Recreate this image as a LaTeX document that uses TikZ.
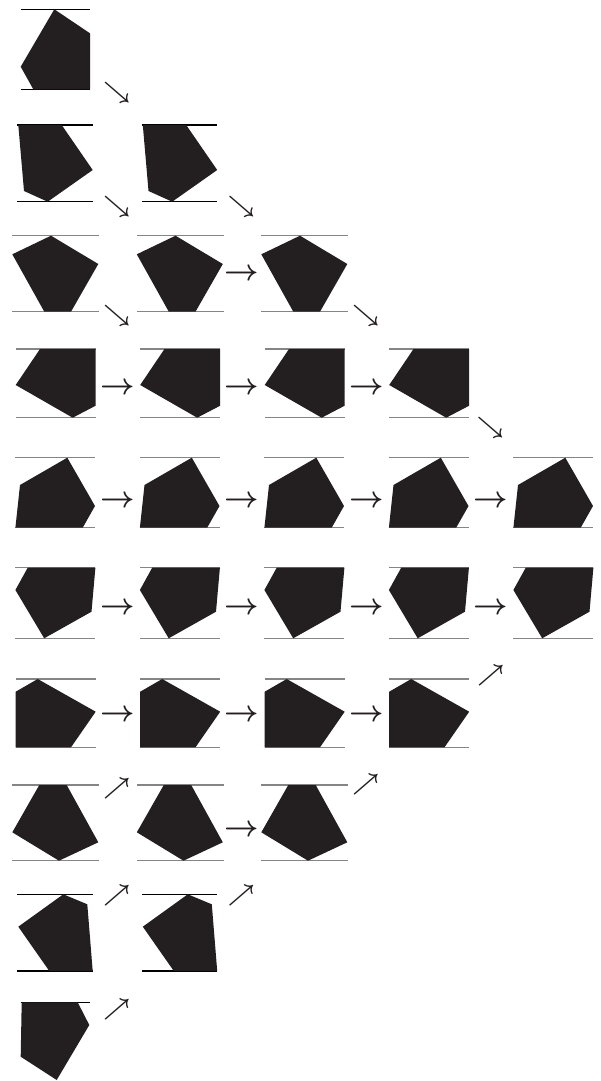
\documentclass[tikz,border=0pt]{standalone}
\definecolor{pentc}{HTML}{231F20}
\definecolor{lg}{HTML}{858585}
\tikzset{
  strip/.style={line width=1.1pt},
  pentfill/.style={fill=pentc},
  arr/.style={scale=3.0, inner sep=0pt, font=\boldmath, text=pentc},
  diag/.style={scale=2.35, inner sep=0pt, font=\boldmath, text=pentc}
}
\newcommand\prow[7]{%
  \foreach \c in {0,...,#1}{%
    \begin{scope}[xshift=\c*124.5]
      \draw[strip,#6] (#4,#2) -- (#5,#2) (#4,#3) -- (#5,#3);
      \fill[pentfill] #7 -- cycle;
    \end{scope}}}
\begin{document}
\begin{tikzpicture}[x=1pt,y=-1pt]
\useasboundingbox (0,0) rectangle (600,1081);
% rows of pentagons
\prow{0}{9.3}{89.3}{20.7}{90}{black}{(54.3,9.3)--(90,33.3)--(90,89.3)--(33.3,89.3)--(20.7,66.7)}
\prow{1}{125}{201.7}{17.3}{92.7}{black}{(18.3,125)--(61.7,125)--(92.7,170)--(47.7,201.7)--(24,191)}
\prow{2}{235.7}{311.7}{12.3}{99}{lg}{(51,235.7)--(98.3,264)--(71,311.7)--(44.3,311.7)--(12.3,254.3)}
\prow{3}{349}{417.7}{15.7}{95.7}{lg}{(40,349)--(95.7,349)--(95.7,405.7)--(72.7,417.7)--(15.7,385)}
\prow{4}{457.7}{527.7}{15.4}{95.4}{lg}{(67.3,457.7)--(95,506)--(82.7,527.7)--(15.4,527.7)--(20,485)}
\prow{4}{567.7}{638.3}{15.4}{95.4}{lg}{(27.7,567.7)--(95.4,567.7)--(91.5,611.7)--(44.2,638.3)--(15.4,590)}
\prow{3}{679}{747.3}{15.7}{95.7}{lg}{(37.7,679)--(95.7,711.7)--(71,747.3)--(15.7,747.3)--(15.7,691.7)}
\prow{2}{785}{860.7}{12.3}{99}{lg}{(39.3,785)--(66.7,785)--(98.3,842.3)--(59,860.7)--(12.3,832.3)}
\prow{1}{894.3}{971}{17.3}{92.7}{black}{(63.3,894.3)--(87.3,904.3)--(92.7,971)--(49.3,971)--(18.3,926.7)}
\draw[strip,black] (20.7,1002.3) -- (90,1002.3);
\fill[pentfill] (21.7,1002.3)--(77.7,1002.3)--(89.3,1025)--(56.7,1080)--(20.7,1056.7)--cycle;
% arrows
\node[diag] (a1) at (117,92.5) {$\searrow$};
\node[diag] (a2a) at (117,207) {$\searrow$};
\node[diag] (a2b) at (241.5,207) {$\searrow$};
\node[diag] (a3a) at (117,316) {$\searrow$};
\node[arr] (a3b) at (242,275) {$\rightarrow$};
\node[diag] (a3c) at (366,316) {$\searrow$};
\foreach \c in {0,1,2}{\node[arr] (a4\c) at (117.5+\c*124.5,389) {$\rightarrow$};}
\node[diag] (a4d) at (490.5,428) {$\searrow$};
\foreach \c in {0,1,2,3}{\node[arr] (a5\c) at (117.5+\c*124.5,502) {$\rightarrow$};}
\foreach \c in {0,1,2,3}{\node[arr] (a6\c) at (117.5+\c*124.5,609) {$\rightarrow$};}
\foreach \c in {0,1,2}{\node[arr] (a7\c) at (117.5+\c*124.5,716) {$\rightarrow$};}
\node[diag] (a7d) at (491,676) {$\nearrow$};
\node[diag] (a8a) at (117,788.5) {$\nearrow$};
\node[arr] (a8b) at (242,831) {$\rightarrow$};
\node[diag] (a8c) at (366,785) {$\nearrow$};
\node[diag] (a9a) at (117,896) {$\nearrow$};
\node[diag] (a9b) at (241.5,896) {$\nearrow$};
\node[diag] (a10) at (117,1010) {$\nearrow$};
\end{tikzpicture}
\end{document}
